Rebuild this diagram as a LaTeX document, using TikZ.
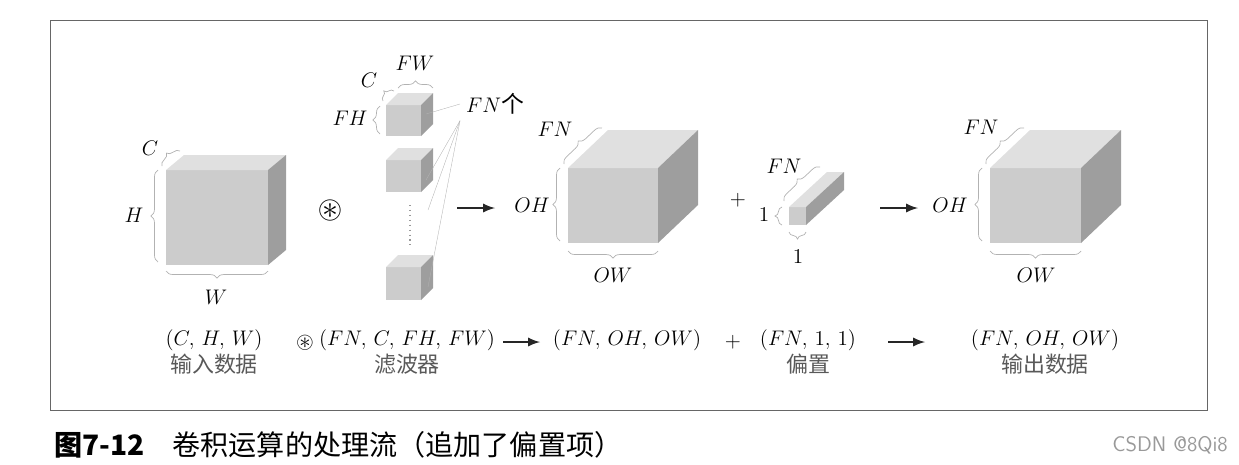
\documentclass[tikz,border=0pt]{standalone}
\usepackage{amssymb}
\usepackage{fontspec}
\newfontfamily\cjk{Noto Sans CJK SC}
\usetikzlibrary{decorations.pathreplacing}

% cube: x, y (front top-left), width, height, depth dx, depth dy
\newcommand\boxcube[6]{%
  \fill[cubefront] (#1,#2) rectangle ++(#3,#4);
  \fill[cubetop] (#1,#2) -- ++(#5,-#6) -- ++(#3,0) -- ++(-#5,#6) -- cycle;
  \fill[cubeside] (#1+#3,#2) -- ++(#5,-#6) -- ++(0,#4) -- ++(-#5,#6) -- cycle;
}

\tikzset{
  cubefront/.style={fill=black!20},
  cubetop/.style={fill=black!12},
  cubeside/.style={fill=black!38},
  brc/.style={draw=black!30, thin, decorate, decoration={brace, amplitude=4pt}},
  lbl/.style={font=\fontsize{13}{15}\selectfont},
  zh/.style={font=\fontsize{12.5}{15}\selectfont\cjk, text=black!65},
  lead/.style={draw=black!30, very thin},
  flow/.style={-latex, line width=1.3pt, black!85},
}

\begin{document}
\begin{tikzpicture}[x=0.02cm, y=-0.02cm]
  \useasboundingbox (0,0) rectangle (1239,464);
  \draw[black!60] (50,20) rectangle (1207,410);

  % input data
  \boxcube{166}{170}{102}{95}{18}{15}
  \draw[brc] (158,262) -- (158,170);
  \draw[brc] (268,271) -- (166,271);
  \draw[brc] (162,166) -- (180,151);
  \node[lbl] (labC) at (150,148) {$C$};
  \node[lbl] (labH) at (134,215) {$H$};
  \node[lbl] (labW) at (216,297) {$W$};

  \node[lbl, scale=1.4] (conv) at (330,210) {$\circledast$};

  % filters
  \boxcube{386}{105}{35}{31}{12}{12}
  \boxcube{386}{160}{35}{32}{12}{12}
  \boxcube{386}{267}{35}{33}{12}{12}
  \draw[black!40, dotted, thick] (410,205) -- (410,245);
  \draw[brc] (380,134) -- (380,106);
  \draw[brc] (398,88) -- (433,88);
  \draw[brc] (383,101) -- (394,91);
  \node[lbl] (labFW) at (415,63) {$FW$};
  \node[lbl] (labFC) at (369,80) {$C$};
  \node[lbl] (labFH) at (350,118) {$FH$};
  \node[lbl, anchor=west] (fnnum) at (460,104) {$FN$\cjk 个};
  \draw[lead] (fnnum.west) -- (426,114);
  \draw[lead] (fnnum.south west) -- (426,180);
  \draw[lead] (fnnum.south west) -- (428,210);
  \draw[lead] (fnnum.south west) -- (428,287);

  \draw[flow] (457,208) -- (495,208);

  % output without bias
  \boxcube{568}{168}{90}{75}{40}{38}
  \draw[brc] (560,241) -- (560,168);
  \draw[brc] (658,251) -- (568,251);
  \draw[brc] (564,164) -- (602,128);
  \node[lbl] (labFN) at (555,129) {$FN$};
  \node[lbl] (labOH) at (532,205) {$OH$};
  \node[lbl] (labOW) at (613,275) {$OW$};

  \node[lbl] (plus) at (738,200) {$+$};

  % bias
  \boxcube{789}{207}{17}{18}{38}{35}
  \draw[brc] (782,225) -- (782,207);
  \draw[brc] (806,232) -- (789,232);
  \draw[brc] (784,201) -- (820,167);
  \node[lbl] (labBFN) at (784,166) {$FN$};
  \node[lbl] (labB1) at (764,215) {$1$};
  \node[lbl] (labB2) at (798,257) {$1$};

  \draw[flow] (880,208) -- (918,208);

  % output
  \boxcube{990}{168}{91}{75}{40}{38}
  \draw[brc] (982,241) -- (982,168);
  \draw[brc] (1081,251) -- (990,251);
  \draw[brc] (986,164) -- (1024,128);
  \node[lbl] (labOFN) at (981,127) {$FN$};
  \node[lbl] (labOOH) at (950,205) {$OH$};
  \node[lbl] (labOOW) at (1036,275) {$OW$};

  % shapes row
  \node[lbl] (shpIn) at (214,340) {$(C,\,H,\,W)$};
  \node[zh] (txtIn) at (214,364) {输入数据};
  \node[lbl] (conv2) at (305,343) {$\circledast$};
  \node[lbl] (shpF) at (407,340) {$(FN,\,C,\,FH,\,FW)$};
  \node[zh] (txtF) at (407,364) {滤波器};
  \draw[flow] (503,342) -- (540,342);
  \node[lbl] (shpO) at (627,340) {$(FN,\,OH,\,OW)$};
  \node[lbl] (plus2) at (733,342) {$+$};
  \node[lbl] (shpB) at (808,340) {$(FN,\,1,\,1)$};
  \node[zh] (txtB) at (808,364) {偏置};
  \draw[flow] (888,342) -- (925,342);
  \node[lbl] (shpOut) at (1045,340) {$(FN,\,OH,\,OW)$};
  \node[zh] (txtOut) at (1045,364) {输出数据};

  % caption
  \node[anchor=west, font=\fontsize{16}{18}\selectfont\cjk] (cap) at (48,445)
    {\textbf{图7-12}\quad 卷积运算的处理流（追加了偏置项）};
  \node[anchor=east, font=\fontsize{12}{14}\selectfont\sffamily, text=black!40] (mark) at (1234,445) {CSDN @8Qi8};
\end{tikzpicture}
\end{document}
